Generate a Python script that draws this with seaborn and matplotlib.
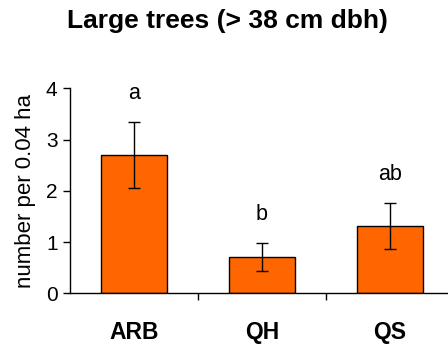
import matplotlib
matplotlib.use("Agg")
import matplotlib.pyplot as plt
import seaborn as sns
import pandas as pd

sites = ["ARB", "QH", "QS"]
means = [2.70, 0.71, 1.31]
errors = [0.64, 0.27, 0.45]
letters = ["a", "b", "ab"]

sns.set_theme(style="white")
plt.rcParams["font.family"] = ["Liberation Sans", "DejaVu Sans"]
plt.rcParams["text.color"] = "black"
plt.rcParams["axes.labelcolor"] = "black"
plt.rcParams["xtick.color"] = "black"
plt.rcParams["ytick.color"] = "black"

df = pd.DataFrame({"site": sites, "mean": means})

fig = plt.figure(figsize=(4.48, 3.5), dpi=100)
ax = fig.add_axes([70 / 448, 1 - 293.3 / 350, 384 / 448, 205 / 350])

sns.barplot(data=df, x="site", y="mean", color="#FF6600", saturation=1,
            width=0.51, edgecolor="black", linewidth=1.0, errorbar=None, ax=ax)

for i, (m, e, lab) in enumerate(zip(means, errors, letters)):
    ax.errorbar(i, m, yerr=e, fmt="none", ecolor="black", elinewidth=1.0,
                capsize=4.5, capthick=1.0)
    ax.text(i, m + e + 0.55, lab, ha="center", va="center", fontsize=15.5,
            color="black")

ax.set_xlim(-0.5, 2.5)
ax.set_ylim(0, 4)
ax.set_yticks([0, 1, 2, 3, 4])
ax.set_yticklabels(["0", "1", "2", "3", "4"], fontsize=15)
ax.set_xticks([0, 1, 2])
ax.set_xticklabels(sites, fontsize=16.5, fontweight="bold")
ax.set_xticks([0.5, 1.5], minor=True)
ax.tick_params(axis="x", which="major", length=0, pad=20)
ax.tick_params(axis="x", which="minor", length=5, width=1, direction="out",
               color="black", bottom=True)
ax.tick_params(axis="y", length=5, width=1, direction="out", color="black",
               left=True, pad=4)
ax.set_xlabel("")
ax.set_ylabel("number per 0.04 ha", fontsize=16, labelpad=7)

for side in ["top", "right"]:
    ax.spines[side].set_visible(False)
for side in ["left", "bottom"]:
    ax.spines[side].set_color("black")
    ax.spines[side].set_linewidth(1.0)

fig.text(0.508, 1 - 21 / 350, "Large trees (> 38 cm dbh)", ha="center",
         va="center", fontsize=19, fontweight="bold", color="black")

fig.savefig("out.png", dpi=100, facecolor="white")
